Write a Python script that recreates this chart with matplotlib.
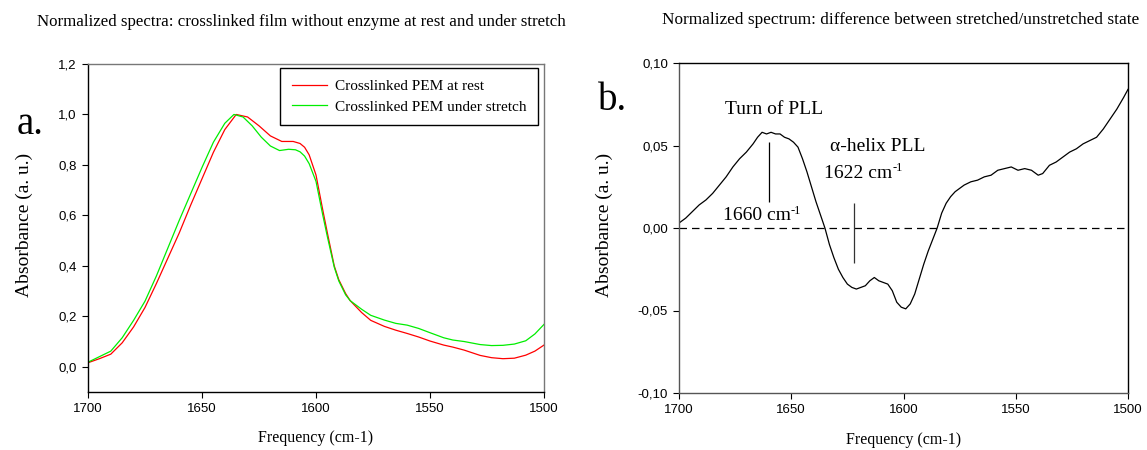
import numpy as np
import matplotlib
matplotlib.use("Agg")
import matplotlib.pyplot as plt
from matplotlib.ticker import FuncFormatter

# --- data ---
freq_rest = [1700, 1695, 1690, 1685, 1680, 1675, 1670, 1665, 1660, 1655, 1650, 1645,
             1640, 1635, 1630, 1625, 1620, 1615, 1610, 1607, 1605, 1603, 1600, 1597, 1595,
             1592, 1590, 1587, 1585, 1580, 1576, 1570, 1565, 1560, 1555, 1550, 1544,
             1540, 1535, 1528, 1523, 1518, 1513, 1508, 1504, 1500]
abs_rest = [0.016, 0.032, 0.050, 0.095, 0.158, 0.235, 0.330, 0.430, 0.530, 0.640, 0.745, 0.850,
            0.940, 1.000, 0.990, 0.955, 0.915, 0.893, 0.893, 0.885, 0.870, 0.840, 0.760, 0.620, 0.530,
            0.400, 0.345, 0.290, 0.262, 0.215, 0.184, 0.160, 0.145, 0.132, 0.118, 0.102, 0.086,
            0.078, 0.066, 0.045, 0.036, 0.032, 0.034, 0.046, 0.062, 0.086]

freq_stretch = [1700, 1695, 1690, 1685, 1680, 1675, 1670, 1665, 1660, 1655, 1650, 1645,
                1640, 1636, 1632, 1628, 1624, 1620, 1616, 1612, 1609, 1607, 1605, 1603, 1600,
                1597, 1595, 1592, 1590, 1587, 1585, 1580, 1576, 1570, 1565, 1560, 1555,
                1550, 1544, 1540, 1535, 1528, 1523, 1518, 1513, 1508, 1504, 1500]
abs_stretch = [0.018, 0.040, 0.062, 0.115, 0.184, 0.260, 0.360, 0.470, 0.580, 0.685, 0.790, 0.890,
               0.965, 1.000, 0.990, 0.955, 0.910, 0.875, 0.857, 0.862, 0.860, 0.852, 0.835, 0.805, 0.735,
               0.600, 0.515, 0.395, 0.340, 0.285, 0.262, 0.228, 0.204, 0.185, 0.172, 0.165, 0.152,
               0.135, 0.115, 0.106, 0.100, 0.088, 0.084, 0.085, 0.090, 0.103, 0.130, 0.168]

freq_diff = [1700, 1697, 1694, 1691, 1688, 1685, 1682, 1679, 1676, 1673, 1670, 1667, 1665,
             1663, 1661, 1659, 1657, 1655, 1653, 1651, 1649, 1647, 1645, 1643, 1641, 1639,
             1637, 1635, 1633, 1631, 1629, 1627, 1625, 1623, 1621, 1619, 1617, 1615, 1613,
             1611, 1609, 1607, 1605, 1603, 1601, 1599, 1597, 1595, 1593, 1591, 1589, 1587,
             1585, 1583, 1581, 1579, 1577, 1575, 1573, 1570, 1567, 1564, 1561, 1558, 1555,
             1552, 1549, 1546, 1543, 1540, 1538, 1535, 1532, 1529, 1526, 1523, 1520, 1517,
             1514, 1511, 1508, 1505, 1502, 1500]
abs_diff = [0.003, 0.006, 0.010, 0.014, 0.017, 0.021, 0.026, 0.031, 0.037, 0.042, 0.046, 0.051, 0.055,
            0.058, 0.057, 0.058, 0.057, 0.057, 0.055, 0.054, 0.052, 0.049, 0.042, 0.034, 0.025, 0.016,
            0.008, 0.000, -0.010, -0.018, -0.025, -0.030, -0.034, -0.036, -0.037, -0.036, -0.035, -0.032, -0.030,
            -0.032, -0.033, -0.034, -0.038, -0.045, -0.048, -0.049, -0.046, -0.040, -0.031, -0.022, -0.014, -0.007,
            0.000, 0.009, 0.015, 0.019, 0.022, 0.024, 0.026, 0.028, 0.029, 0.031, 0.032, 0.035, 0.036,
            0.037, 0.035, 0.036, 0.035, 0.032, 0.033, 0.038, 0.040, 0.043, 0.046, 0.048, 0.051, 0.053,
            0.055, 0.060, 0.066, 0.072, 0.079, 0.084]

peaks = [1660, 1622]
labels = ["Crosslinked PEM at rest", "Crosslinked PEM under stretch"]

SERIF = "Liberation Serif"
SANS = "Liberation Sans"

fig = plt.figure(figsize=(11.47, 4.5), dpi=100)
ax1 = fig.add_axes([88 / 1147, 1 - 392 / 450, 456 / 1147, 328 / 450])
ax2 = fig.add_axes([679 / 1147, 1 - 393 / 450, 449 / 1147, 330 / 450])


def comma(fmt):
    return FuncFormatter(lambda v, p: (fmt % v).replace(".", ","))


def style(ax, dark, light, ylab_x):
    for s in ["left", "bottom"]:
        ax.spines[s].set_color(dark)
    for s in ["top", "right"]:
        ax.spines[s].set_color(light)
    for s in ax.spines.values():
        s.set_linewidth(1.0)
    ax.tick_params(direction="out", length=4, width=0.8, labelsize=9.5,
                   top=False, right=False, pad=4)
    for t in ax.get_xticklabels() + ax.get_yticklabels():
        t.set_fontfamily(SANS)
    ax.set_xlim(1700, 1500)
    ax.set_xticks([1700, 1650, 1600, 1550, 1500])
    ax.set_xlabel("Frequency (cm-1)", fontfamily=SERIF, fontsize=11.5)
    ax.xaxis.set_label_coords(0.5, -0.117)
    ax.set_ylabel("Absorbance (a. u.)", fontfamily=SERIF, fontsize=14)
    ax.yaxis.set_label_coords(ylab_x, 0.51)


def wavenumber(ax, x, y, value):
    t = ax.text(x, y, "%d cm" % value, fontfamily=SERIF, fontsize=14, va="center")
    ax.annotate("-1", xy=(1.0, 0.78), xycoords=t, fontfamily=SERIF, fontsize=9,
                ha="left", va="center")


# left panel
ax1.plot(freq_rest, abs_rest, color="#ff0000", lw=0.9, label=labels[0])
ax1.plot(freq_stretch, abs_stretch, color="#00ee00", lw=0.9, label=labels[1])
ax1.set_ylim(-0.1, 1.2)
ax1.set_yticks(np.arange(0, 1.21, 0.2))
ax1.yaxis.set_major_formatter(comma("%.1f"))
style(ax1, "black", "#777777", -0.12)
leg = ax1.legend(loc="upper right", bbox_to_anchor=(0.987, 0.988), borderaxespad=0,
                 prop={"family": SERIF, "size": 11}, fancybox=False, framealpha=1,
                 handlelength=2.3, labelspacing=0.45, borderpad=0.75, handletextpad=0.55)
leg.get_frame().set_edgecolor("black")
leg.get_frame().set_linewidth(1.0)

# right panel
ax2.plot(freq_diff, abs_diff, color="black", lw=0.9)
ax2.axhline(0, color="black", lw=0.9, ls=(0, (6, 4)))
ax2.set_ylim(-0.1, 0.1)
ax2.set_yticks([-0.1, -0.05, 0, 0.05, 0.1])
ax2.yaxis.set_major_formatter(comma("%.2f"))
style(ax2, "#555555", "black", -0.147)
ax2.vlines(peaks[0], 0.016, 0.052, color="black", lw=0.9)
ax2.vlines(peaks[1], -0.021, 0.015, color="#333333", lw=0.9)
ax2.text(1679.5, 0.072, "Turn of PLL", fontfamily=SERIF, fontsize=14, va="center")
ax2.text(1632.7, 0.0494, "\u03b1-helix PLL", fontfamily=SERIF, fontsize=14, va="center")
wavenumber(ax2, 1680.4, 0.0075, peaks[0])
wavenumber(ax2, 1635.4, 0.0332, peaks[1])

# titles and panel letters
fig.text(37 / 1147, 1 - 22 / 450, "Normalized spectra: crosslinked film without enzyme at rest and under stretch",
         fontfamily=SERIF, fontsize=12.2, va="center", ha="left")
fig.text(662 / 1147, 1 - 20 / 450, "Normalized spectrum: difference between stretched/unstretched state",
         fontfamily=SERIF, fontsize=12.4, va="center", ha="left")
fig.text(17 / 1147, 1 - 125 / 450, "a.", fontfamily=SERIF, fontsize=28, va="center", ha="left")
fig.text(598 / 1147, 1 - 101 / 450, "b.", fontfamily=SERIF, fontsize=28, va="center", ha="left")

fig.savefig("out.png", dpi=100)
